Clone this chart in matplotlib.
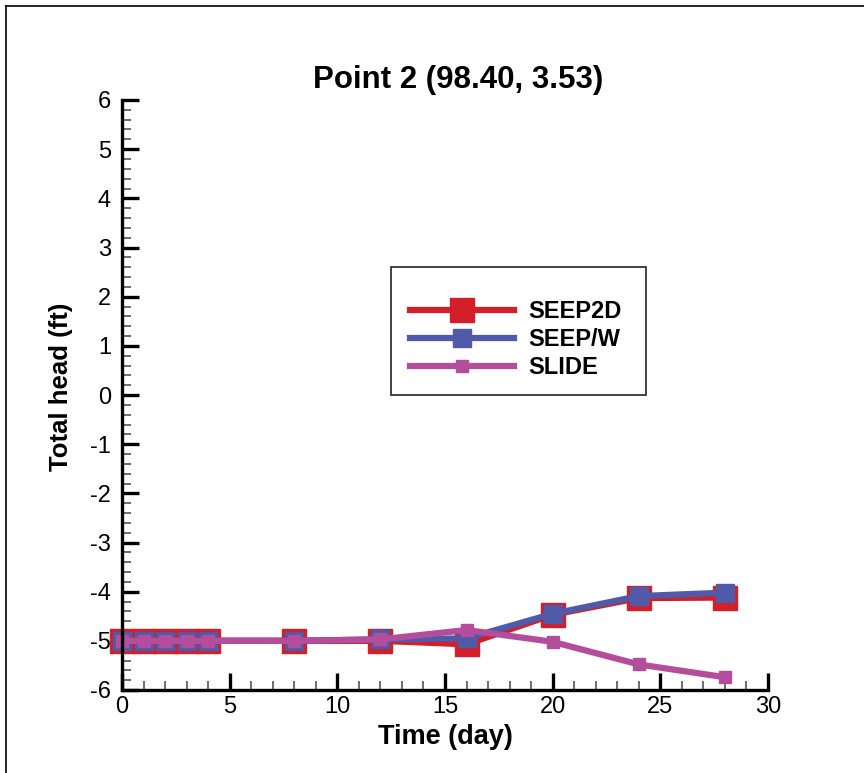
import matplotlib
matplotlib.use("Agg")
import matplotlib.pyplot as plt
from matplotlib.lines import Line2D
from matplotlib.patches import Rectangle
from matplotlib.ticker import MultipleLocator

plt.rcParams['font.family'] = ['Liberation Sans', 'DejaVu Sans']
plt.rcParams['axes.unicode_minus'] = False

title = "Point 2 (98.40, 3.53)"
xlabel = "Time (day)"
ylabel = "Total head (ft)"

time = [0, 1, 2, 3, 4, 8, 12, 16, 20, 24, 28]
seep2d = [-5.0, -5.0, -5.0, -5.0, -5.0, -5.0, -5.0, -5.07, -4.47, -4.13, -4.12]
seepw = [-5.0, -5.0, -5.0, -5.0, -5.0, -5.0, -4.97, -4.95, -4.45, -4.09, -4.02]
slide = [-5.0, -5.0, -5.0, -5.0, -5.0, -5.0, -4.97, -4.78, -5.02, -5.48, -5.74]

names = ["SEEP2D", "SEEP/W", "SLIDE"]
colors = ["#d21f28", "#4f5aa8", "#b54d9d"]

fig = plt.figure(figsize=(8.64, 7.73), dpi=100)
ax = fig.add_axes([122/864, 1-690/773, 646/864, 590/773])

ax.plot(time, seep2d, color=colors[0], lw=4.5, marker='s', ms=17.5,
        mec=colors[0], mfc=colors[0], label=names[0], zorder=3, clip_on=False)
ax.plot(time, seepw, color=colors[1], lw=4.5, marker='s', ms=13.5,
        mec=colors[1], mfc=colors[1], label=names[1], zorder=4, clip_on=False)
ax.plot(time, slide, color=colors[2], lw=4.5, marker='s', ms=9,
        mec=colors[2], mfc=colors[2], label=names[2], zorder=5, clip_on=False)

ax.set_xlim(0, 30)
ax.set_ylim(-6, 6)
ax.xaxis.set_major_locator(MultipleLocator(5))
ax.xaxis.set_minor_locator(MultipleLocator(1))
ax.yaxis.set_major_locator(MultipleLocator(1))
ax.yaxis.set_minor_locator(MultipleLocator(0.2))

for s in ['top', 'right']:
    ax.spines[s].set_visible(False)
for s in ['left', 'bottom']:
    ax.spines[s].set_linewidth(2.4)
    ax.spines[s].set_zorder(6)

ax.tick_params(which='major', direction='in', length=12, width=2.4,
               labelsize=17, color='black')
ax.tick_params(which='minor', direction='in', length=6.5, width=1.2,
               color='#555555')
ax.tick_params(axis='y', which='major', pad=8)
ax.tick_params(axis='x', which='major', pad=4)

ax.set_xlabel(xlabel, fontsize=19.5, fontweight='bold', labelpad=5)
ax.set_ylabel(ylabel, fontsize=18.5, fontweight='bold', labelpad=12)
ax.yaxis.label.set_y((690-387)/590)
fig.text(458/864, 1-80/773, title, fontsize=22.5, fontweight='bold',
         ha='center', va='center')

leg = ax.legend(loc='upper left', bbox_to_anchor=((410-122)/646, (690-300)/590),
                frameon=False, prop={'weight': 'bold', 'size': 17},
                handlelength=4.4, handletextpad=0.6, labelspacing=0.22,
                borderpad=0, borderaxespad=0)

# legend box
ax.add_patch(Rectangle(((391-122)/646, (690-395)/590), (646-391)/646, (395-267)/590,
                       transform=ax.transAxes, fill=False, edgecolor='#222222',
                       lw=1.2, clip_on=False, zorder=7))

# outer frame lines
fig.add_artist(Line2D([6/864, 1], [1-6/773, 1-6/773], color='black', lw=1.2,
                      transform=fig.transFigure))
fig.add_artist(Line2D([6/864, 6/864], [0, 1-6/773], color='black', lw=1.2,
                      transform=fig.transFigure))

fig.savefig("out.png", dpi=100)
